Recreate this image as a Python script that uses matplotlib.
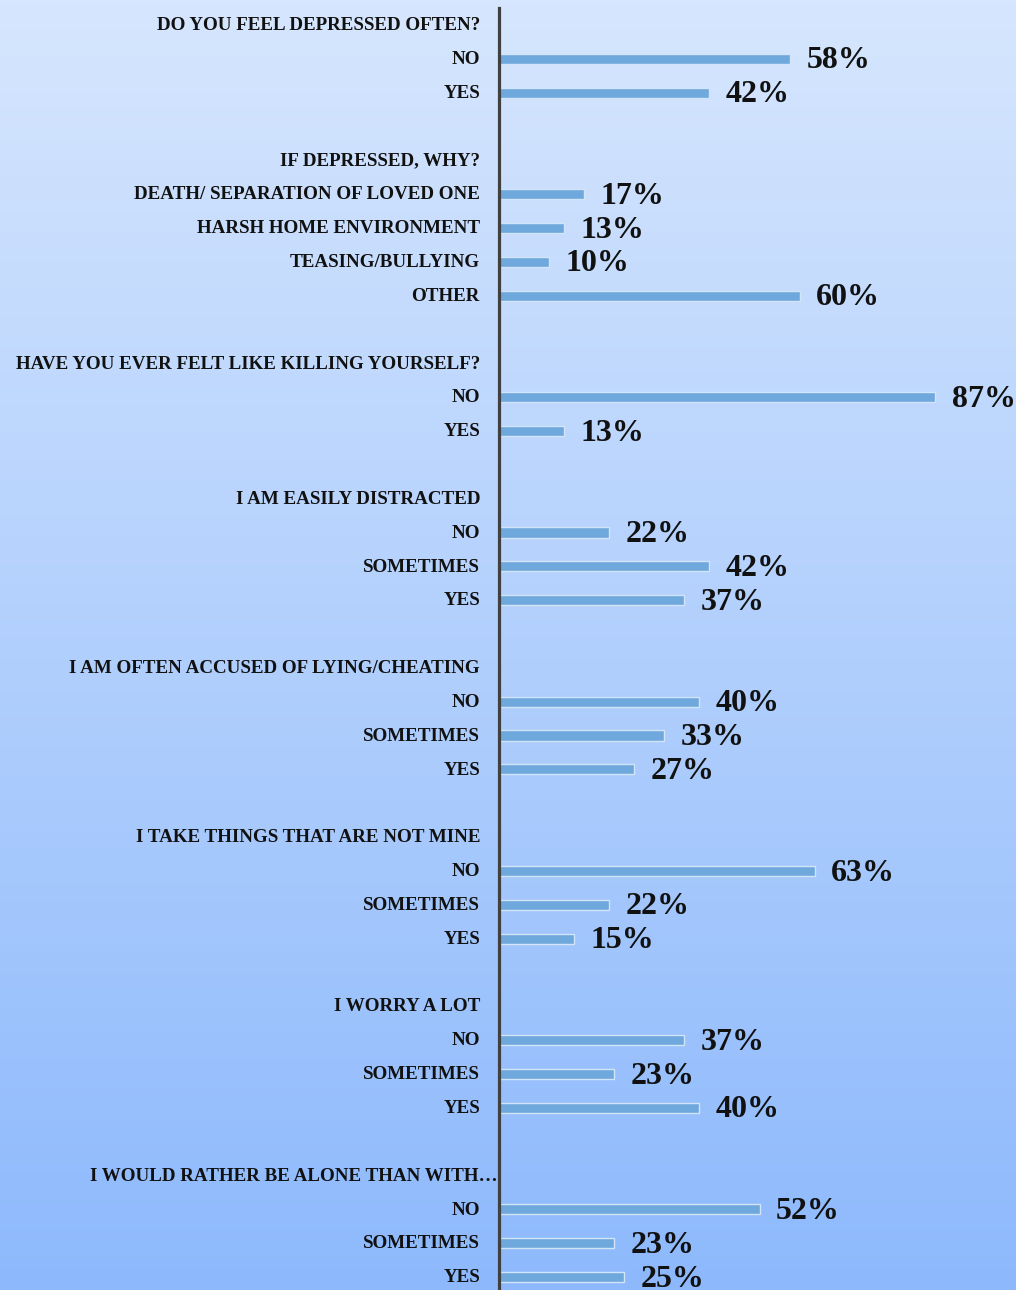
import numpy as np
import matplotlib.pyplot as plt
from matplotlib import transforms

# survey sections: header question followed by its answers
questions = [
    "DO YOU FEEL DEPRESSED OFTEN?",
    "IF DEPRESSED, WHY?",
    "HAVE YOU EVER FELT LIKE KILLING YOURSELF?",
    "I AM EASILY DISTRACTED",
    "I AM OFTEN ACCUSED OF LYING/CHEATING",
    "I TAKE THINGS THAT ARE NOT MINE",
    "I WORRY A LOT",
    "I WOULD RATHER BE ALONE THAN WITH\u2026",
]
answers = [
    ["NO", "YES"],
    ["DEATH/ SEPARATION OF LOVED ONE", "HARSH HOME ENVIRONMENT", "TEASING/BULLYING", "OTHER"],
    ["NO", "YES"],
    ["NO", "SOMETIMES", "YES"],
    ["NO", "SOMETIMES", "YES"],
    ["NO", "SOMETIMES", "YES"],
    ["NO", "SOMETIMES", "YES"],
    ["NO", "SOMETIMES", "YES"],
]
percents = [
    [58, 42],
    [17, 13, 10, 60],
    [87, 13],
    [22, 42, 37],
    [40, 33, 27],
    [63, 22, 15],
    [37, 23, 40],
    [52, 23, 25],
]

# lay out rows: header, answers, blank spacer
rows = []  # (label, value or None, is_header)
for q, ans, vals in zip(questions, answers, percents):
    if rows:
        rows.append(("", None, False))
    rows.append((q, None, True))
    for a, v in zip(ans, vals):
        rows.append((a, v, False))

n = len(rows)
ypos = np.arange(n)

W, H = 1016, 1290
fig = plt.figure(figsize=(W / 100, H / 100), dpi=100)

# vertical gradient background
bg = fig.add_axes([0, 0, 1, 1], zorder=0)
top = np.array([214, 230, 254]) / 255
bot = np.array([141, 185, 252]) / 255
t = np.linspace(0, 1, 256)[:, None]
grad = (top * (1 - t) + bot * t)[:, None, :]
bg.imshow(grad, aspect="auto", extent=[0, 1, 0, 1])
bg.axis("off")

row_px = 33.84
ax_top = 8.0
ax_h = row_px * n
ax = fig.add_axes([499 / W, (H - ax_top - ax_h) / H, (W - 499) / W, ax_h / H], zorder=1)
ax.patch.set_alpha(0)

bar_y = [y for y, r in zip(ypos, rows) if r[1] is not None]
bar_v = [r[1] for r in rows if r[1] is not None]
ax.barh(bar_y, bar_v, height=0.3, color="#6fa8dc", edgecolor="#d2e4f7", linewidth=1.0)

ax.set_ylim(n - 0.5, -0.5)
ax.set_xlim(0, (W - 499) / 5.01)

for y, v in zip(bar_y, bar_v):
    ax.annotate(f"{v}%", xy=(v, y), xytext=(12, -1.5), textcoords="offset points",
                ha="left", va="center", fontsize=23, fontweight="bold",
                family="Liberation Serif", color="#111111")

# row labels to the left of the axis
lab_tr = transforms.blended_transform_factory(ax.transAxes, ax.transData)
for y, (label, v, is_header) in zip(ypos, rows):
    if not label:
        continue
    dx = -19 if not label.endswith("\u2026") else -2
    ax.annotate(label, xy=(0, y), xycoords=lab_tr, xytext=(dx * 0.72, -0.5),
                textcoords="offset points", ha="right", va="center",
                fontsize=13.7, fontweight="bold", family="Liberation Serif",
                color="#111111")

for s in ["top", "right", "bottom"]:
    ax.spines[s].set_visible(False)
ax.spines["left"].set_linewidth(2.3)
ax.spines["left"].set_color("#404040")
ax.set_xticks([])
ax.set_yticks([])

fig.savefig("out.png", dpi=100)
